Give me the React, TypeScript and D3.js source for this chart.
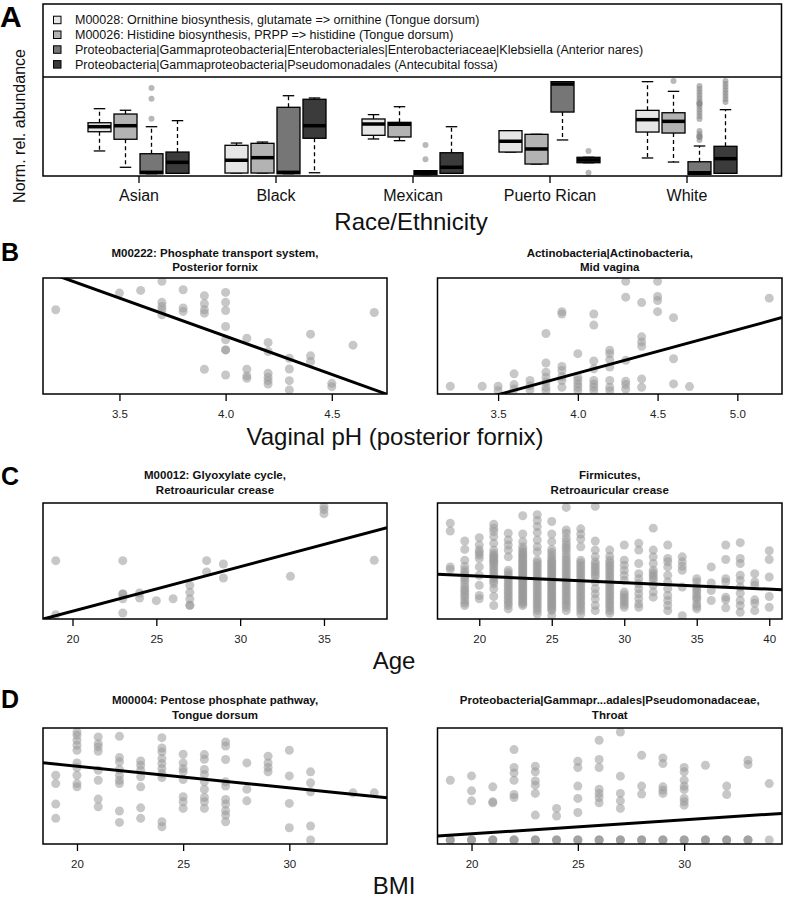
import React, { useEffect, useRef } from 'react';
import * as d3 from 'd3';

const FONT = 'Liberation Sans, Arial, Helvetica, sans-serif';

// ---- Panel A: box plots by race/ethnicity ----
const raceGroups = ['Asian', 'Black', 'Mexican', 'Puerto Rican', 'White'];

const boxLabels = [
  'M00028: Ornithine biosynthesis, glutamate => ornithine (Tongue dorsum)',
  'M00026: Histidine biosynthesis, PRPP => histidine (Tongue dorsum)',
  'Proteobacteria|Gammaproteobacteria|Enterobacteriales|Enterobacteriaceae|Klebsiella (Anterior nares)',
  'Proteobacteria|Gammaproteobacteria|Pseudomonadales (Antecubital fossa)',
];
const boxFills = ['#e6e6e6', '#b3b3b3', '#767676', '#3b3b3b'];

// [low whisker, q1, median, q3, high whisker] per race group
const ornithineStats = [
  [25.3, 44.7, 49.8, 53.8, 68.0],
  [3.0, 3.0, 15.9, 31.0, 33.3],
  [37.4, 41.1, 52.5, 57.6, 62.0],
  [24.2, 24.2, 35.1, 45.8, 45.8],
  [18.2, 44.4, 56.9, 66.3, 95.3],
];
const histidineStats = [
  [8.8, 37.1, 50.8, 62.6, 66.4],
  [3.0, 3.0, 18.5, 33.0, 34.3],
  [35.7, 39.4, 52.3, 54.2, 70.0],
  [12.1, 12.1, 27.3, 42.1, 42.1],
  [14.1, 43.4, 55.2, 63.9, 85.5],
];
const klebsiellaStats = [
  [2.3, 2.3, 3.7, 22.5, 49.8],
  [2.3, 2.3, 3.7, 69.4, 81.1],
  [1.3, 1.3, 3.5, 5.4, 5.4],
  [36.4, 64.6, 92.9, 95.3, 95.3],
  [1.7, 1.7, 3.3, 14.4, 30.3],
];
const pseudomonadalesStats = [
  [2.7, 2.7, 13.8, 24.2, 55.9],
  [3.3, 38.1, 50.8, 77.5, 78.8],
  [2.7, 2.7, 8.8, 23.5, 49.8],
  [13.4, 13.4, 16.2, 18.9, 18.9],
  [2.7, 2.7, 17.5, 30.0, 67.0],
];

const ornithineOutliers: number[][] = [[], [], [], [], []];
const histidineOutliers: number[][] = [[], [], [], [], [96.0]];
const klebsiellaOutliers: number[][] = [
  [88.9, 78.1, 57.9],
  [],
  [31.3, 16.9],
  [],
  [90.9, 87.9, 84.8, 81.8, 78.8, 75.8, 73.7, 72.7, 72.7, 69.7, 66.7, 63.6, 60.6, 57.6, 45.5, 42.4, 40.4, 39.4, 39.4, 36.4],
];
const pseudomonadalesOutliers: number[][] = [
  [],
  [],
  [],
  [25.3, 3.3],
  [96.0, 92.9, 89.9, 86.9, 83.8, 80.8, 77.8, 74.7],
];

const boxStats = [ornithineStats, histidineStats, klebsiellaStats, pseudomonadalesStats];
const boxOutliers = [ornithineOutliers, histidineOutliers, klebsiellaOutliers, pseudomonadalesOutliers];

// ---- Scatter panels: [x, [normalized abundances]] columns ----
const phosphateCols: [number, number[]][] = [
  [3.2, [72.6]],
  [3.5, [87.0]],
  [3.6, [89.3]],
  [3.7, [97.1, 79.0, 75.5, 72.6, 68.3]],
  [3.8, [89.9, 74.1, 71.2]],
  [3.9, [84.7, 77.8, 72.6, 69.7, 21.3]],
  [4.0, [87.6, 79.0, 72.0, 58.2, 46.7, 38.0, 38.0, 16.4]],
  [4.1, [48.1, 21.3, 15.6, 13.5]],
  [4.2, [44.4, 36.6, 17.9, 14.4, 11.5, 8.6]],
  [4.3, [30.8, 21.6, 11.5, 3.5]],
  [4.4, [51.6, 32.9, 28.0]],
  [4.5, [9.2, 6.3]],
  [4.6, [42.1]],
  [4.7, [70.3]],
];
const actinoCols: [number, number[]][] = [
  [3.2, [6.7]],
  [3.4, [6.7]],
  [3.5, [6.7, 2.9]],
  [3.6, [17.4, 8.1, 4.3]],
  [3.7, [11.6, 7.2, 3.5]],
  [3.8, [52.2, 26.7, 18.8, 14.5, 10.1, 5.8, 2.9]],
  [3.9, [71.0, 69.0, 23.8, 20.3, 15.1, 11.6, 5.8]],
  [4.0, [34.8, 14.5, 11.6, 8.7, 5.8, 2.9]],
  [4.1, [69.0, 59.4, 28.4, 21.7, 11.6, 8.7, 5.8, 2.9]],
  [4.2, [37.7, 34.8, 29.6, 23.2, 11.6, 5.8, 2.9]],
  [4.3, [97.1, 83.5, 29.0, 11.0, 8.1, 4.3]],
  [4.4, [78.8, 49.3, 44.9, 41.2, 13.0, 5.8]],
  [4.5, [97.1, 84.1, 80.6, 71.0]],
  [4.6, [65.8, 30.4, 8.7]],
  [4.7, [6.4]],
  [5.2, [82.6]],
];
const glyoxylateCols: [number, number[]][] = [
  [19, [50.3, 3.7]],
  [23, [50.3, 21.6, 21.6, 17.5, 5.2]],
  [24, [22.4, 18.1]],
  [25, [15.8]],
  [26, [17.5]],
  [27, [29.0, 23.0, 17.2, 11.8, 11.8]],
  [28, [50.3, 40.5]],
  [29, [47.4, 35.3]],
  [33, [36.8]],
  [35, [97.1, 94.3, 90.8]],
  [38, [50.6]],
];
const firmicutesCols: [number, number[]][] = [
  [18, [82.6, 75.9, 44.9, 42.6]],
  [19, [67.2, 60.0, 50.7, 45.5, 42.0, 39.8, 37.7, 35.5, 33.3, 30.4, 27.5, 25.3, 23.2, 20.9, 18.8, 15.9, 13.7, 11.6]],
  [20, [70.1, 63.8, 59.4, 57.2, 55.1, 52.2, 44.9, 37.7, 29.0, 20.3, 17.4]],
  [21, [81.7, 78.3, 75.4, 71.0, 65.2, 59.4, 56.5, 55.0, 53.6, 52.1, 50.7, 49.2, 47.8, 45.6, 43.5, 41.3, 39.1, 36.9, 34.8, 32.6, 30.4, 26.1, 19.4, 11.6]],
  [22, [73.9, 68.1, 63.8, 59.4, 53.6, 42.0, 39.8, 37.7, 35.5, 33.3, 31.1, 29.0, 26.8, 24.6, 22.4, 20.3, 18.1, 15.9, 13.7, 11.6, 8.7]],
  [23, [89.0, 73.3, 66.7, 62.3, 60.1, 58.0, 56.5, 55.1, 53.6, 52.2, 50.7, 49.3, 47.8, 46.4, 44.9, 43.5, 42.0, 40.6, 39.1, 37.7, 36.2, 34.8, 33.3, 31.9, 30.4, 29.0, 27.5, 26.1, 24.6, 23.2, 21.7, 20.3, 18.8, 17.4, 15.9, 14.5, 13.0, 11.6]],
  [24, [89.9, 84.9, 79.7, 74.5, 68.1, 62.3, 58.0, 50.7, 48.5, 46.4, 44.2, 42.0, 39.8, 37.7, 35.5, 33.3, 31.1, 29.0, 26.8, 24.6, 22.4, 20.3, 18.1, 15.9, 13.7, 11.6, 9.4, 7.2, 4.3]],
  [25, [84.1, 73.3, 66.7, 60.0, 57.5, 55.1, 52.9, 50.7, 49.2, 47.8, 46.3, 44.9, 43.4, 42.0, 40.5, 39.1, 37.6, 36.2, 34.7, 33.3, 31.8, 30.4, 28.9, 27.5, 26.0, 24.6, 23.1, 21.7, 20.2, 18.8, 17.3, 15.9, 14.4, 13.0, 11.5, 10.1, 8.6, 7.2, 2.9]],
  [26, [96.2, 76.8, 73.9, 69.6, 66.7, 63.8, 61.6, 59.4, 56.5, 53.6, 51.4, 49.3, 47.1, 44.9, 42.7, 40.6, 38.4, 36.2, 34.0, 31.9, 29.7, 27.5, 25.3, 23.2, 21.0, 18.8, 16.6, 14.5, 12.3, 10.1, 7.2]],
  [27, [77.7, 73.3, 69.0, 62.3, 50.7, 48.5, 46.4, 44.2, 42.0, 39.8, 37.7, 35.5, 33.3, 31.1, 29.0, 26.8, 24.6, 22.4, 20.3, 18.1, 15.9, 13.7, 11.6, 9.4, 7.2, 4.3]],
  [28, [97.1, 67.2, 59.4, 53.6, 49.3, 47.1, 44.9, 42.7, 40.6, 38.4, 36.2, 31.9, 26.1, 21.7, 17.4, 11.6, 7.2]],
  [29, [59.4, 54.2, 50.7, 48.5, 46.4, 44.2, 42.0, 39.8, 37.7, 35.5, 33.3, 31.1, 29.0, 26.8, 24.6, 22.4, 20.3, 18.1, 15.9, 13.7, 11.6, 9.4, 7.2, 4.9]],
  [30, [63.8, 50.7, 46.4, 42.0, 37.7, 33.3, 23.2, 20.9, 18.8, 16.6, 14.5, 12.3, 10.1]],
  [31, [65.2, 59.4, 47.8, 39.1, 34.8, 30.4, 26.1, 21.7, 17.4, 13.0, 10.1]],
  [32, [78.3, 59.4, 53.6, 47.8, 42.0, 39.8, 37.7, 35.5, 33.3, 29.0, 23.2, 18.8]],
  [33, [63.8, 52.2, 49.3, 44.9, 37.7, 31.9, 26.1, 20.3, 15.9, 11.6, 7.2]],
  [34, [53.6, 49.3, 45.5, 42.0, 27.5, 2.9]],
  [35, [34.8, 31.9, 27.5, 25.3, 23.2, 20.3, 18.4, 16.5, 13.0, 10.8, 8.7]],
  [36, [44.9, 31.0, 24.6, 15.9]],
  [37, [63.8, 51.3, 34.8, 31.9, 18.8, 16.5, 9.6]],
  [38, [65.8, 52.2, 47.8, 37.7, 33.3, 27.5, 22.3, 15.9, 11.6, 5.8]],
  [39, [39.1, 31.9, 29.0, 16.5, 13.6, 7.2]],
  [40, [58.8, 51.3, 36.2, 19.4, 10.1]],
];
const pentoseCols: [number, number[]][] = [
  [19, [59.3, 52.1, 34.4, 22.1]],
  [20, [96.6, 93.7, 89.4, 85.1, 80.8, 69.9, 65.9, 59.3, 52.1, 49.3]],
  [21, [92.3, 86.5, 83.7, 79.9, 63.6, 55.0, 38.7, 32.1]],
  [22, [92.8, 74.5, 70.8, 64.2, 59.3, 55.0, 52.1, 28.4, 18.6]],
  [23, [71.6, 67.9, 63.6, 57.9, 49.3, 31.2, 22.1]],
  [24, [91.7, 82.8, 79.4, 73.6, 69.3, 65.0, 60.7, 57.3, 19.2, 14.9]],
  [25, [77.4, 69.9, 65.0, 62.2, 55.6, 40.7, 36.4, 30.7]],
  [26, [77.1, 73.1, 64.2, 59.9, 53.6, 47.0, 40.1, 36.4, 30.7]],
  [27, [88.0, 84.5, 72.8, 53.6, 49.9, 38.4, 34.4, 28.7, 24.9, 19.2]],
  [28, [69.9, 47.3, 37.2]],
  [29, [75.6, 69.9, 65.9, 62.2]],
  [30, [80.8, 58.7, 35.0, 14.0]],
  [31, [62.2, 52.7, 45.0, 15.5, 3.4]],
  [33, [44.1]],
  [34, [44.1]],
];
const pseudomonadaceaeCols: [number, number[]][] = [
  [19, [55.0, 3.4, 3.4, 3.4]],
  [20, [58.7, 45.8, 37.2, 3.4, 3.4, 3.4]],
  [21, [49.3, 36.4, 35.5, 3.4, 3.4, 3.4]],
  [22, [81.4, 65.9, 61.3, 55.0, 42.7, 40.1, 3.4, 3.4, 3.4]],
  [23, [67.0, 62.2, 54.4, 50.7, 43.6, 24.9, 3.4, 3.4, 3.4]],
  [24, [30.7, 24.1, 3.4, 3.4, 3.4]],
  [25, [71.3, 65.9, 49.9, 39.3, 27.2, 3.4, 3.4, 3.4]],
  [26, [89.4, 72.8, 65.9, 47.3, 43.6, 40.1, 35.5, 3.4, 3.4, 3.4]],
  [27, [96.6, 58.5, 43.6, 37.2, 30.7, 3.4, 3.4, 3.4]],
  [28, [76.5, 49.9, 43.0, 3.4, 3.4, 3.4]],
  [29, [74.2, 69.3, 49.3, 46.4, 43.6, 3.4, 3.4, 3.4]],
  [30, [65.9, 62.2, 55.0, 49.9, 47.0, 39.3, 36.4, 33.5, 3.4, 3.4, 3.4]],
  [31, [67.9, 3.4, 3.4, 3.4]],
  [32, [49.9, 42.7, 3.4, 3.4, 3.4]],
  [33, [72.2, 68.5, 3.4, 3.4, 3.4]],
  [34, [52.1, 3.4]],
];

// linear fits: intercept, slope
const phosphateFit = [313.0, -65.8];
const actinoFit = [-131.3, 37.35];
const glyoxylateFit = [-70.1, 3.84];
const firmicutesFit = [48.26, -0.564];
const pentoseFit = [104.2, -1.86];
const pseudomonadaceaeFit = [-15.4, 1.207];

const phTicks = [3.5, 4.0, 4.5, 5.0];
const ageTicks = [20, 25, 30, 35, 40];
const bmiTicks = [20, 25, 30];

const LEFT = [43, 387];
const RIGHT = [437.5, 782];

const scatterPanels = [
  { id: 'b1', xr: LEFT, top: 278, bottom: 394, cols: phosphateCols, fit: phosphateFit, ticks: phTicks, fmt: d3.format('.1f'),
    title: ['M00222: Phosphate transport system,', 'Posterior fornix'], titleY: [256.5, 270.5] },
  { id: 'b2', xr: RIGHT, top: 278, bottom: 394, cols: actinoCols, fit: actinoFit, ticks: phTicks, fmt: d3.format('.1f'),
    title: ['Actinobacteria|Actinobacteria,', 'Mid vagina'], titleY: [256.5, 270.5] },
  { id: 'c1', xr: LEFT, top: 503, bottom: 619, cols: glyoxylateCols, fit: glyoxylateFit, ticks: ageTicks, fmt: d3.format('d'),
    title: ['M00012: Glyoxylate cycle,', 'Retroauricular crease'], titleY: [479, 494] },
  { id: 'c2', xr: RIGHT, top: 503, bottom: 619, cols: firmicutesCols, fit: firmicutesFit, ticks: ageTicks, fmt: d3.format('d'),
    title: ['Firmicutes,', 'Retroauricular crease'], titleY: [479, 494] },
  { id: 'd1', xr: LEFT, top: 728, bottom: 844, cols: pentoseCols, fit: pentoseFit, ticks: bmiTicks, fmt: d3.format('d'),
    title: ['M00004: Pentose phosphate pathway,', 'Tongue dorsum'], titleY: [704, 718.5] },
  { id: 'd2', xr: RIGHT, top: 728, bottom: 844, cols: pseudomonadaceaeCols, fit: pseudomonadaceaeFit, ticks: bmiTicks, fmt: d3.format('d'),
    title: ['Proteobacteria|Gammapr...adales|Pseudomonadaceae,', 'Throat'], titleY: [704, 718.5] },
];

function drawScatter(svg: any, p: any) {
  const g = svg.append('g');
  const pts = p.cols.flatMap(([x, ys]: [number, number[]]) => ys.map((y) => [x, y]));
  const [mn, mx] = d3.extent(pts, (d: number[]) => d[0]) as [number, number];
  const pad = (mx - mn) * 0.04;
  const x = d3.scaleLinear().domain([mn - pad, mx + pad]).range(p.xr);
  const y = d3.scaleLinear().domain([0, 100]).range([p.bottom, p.top]);

  g.append('clipPath').attr('id', 'clip-' + p.id).append('rect')
    .attr('x', p.xr[0]).attr('y', p.top)
    .attr('width', p.xr[1] - p.xr[0]).attr('height', p.bottom - p.top);

  const inner = g.append('g').attr('clip-path', `url(#clip-${p.id})`);
  inner.selectAll('circle').data(pts).join('circle')
    .attr('cx', (d: number[]) => x(d[0]))
    .attr('cy', (d: number[]) => y(d[1]))
    .attr('r', 4.5)
    .attr('fill', '#999')
    .attr('fill-opacity', 0.55);

  const xd = x.domain();
  inner.append('line')
    .attr('x1', x(xd[0])).attr('y1', y(p.fit[0] + p.fit[1] * xd[0]))
    .attr('x2', x(xd[1])).attr('y2', y(p.fit[0] + p.fit[1] * xd[1]))
    .attr('stroke', '#000').attr('stroke-width', 3);

  g.append('rect')
    .attr('x', p.xr[0]).attr('y', p.top)
    .attr('width', p.xr[1] - p.xr[0]).attr('height', p.bottom - p.top)
    .attr('fill', 'none').attr('stroke', '#000').attr('stroke-width', 1.5);

  const ticks = p.ticks.filter((t: number) => t >= xd[0] && t <= xd[1]);
  const ax = g.append('g').attr('transform', `translate(0,${p.bottom})`)
    .call(d3.axisBottom(x).tickValues(ticks).tickFormat(p.fmt).tickSize(7).tickPadding(9));
  ax.select('.domain').remove();
  ax.selectAll('line').attr('stroke', '#000').attr('stroke-width', 1.3);
  ax.selectAll('text').attr('font-family', FONT).attr('font-size', 11.5).attr('fill', '#222');

  const cx = (p.xr[0] + p.xr[1]) / 2;
  p.title.forEach((t: string, i: number) => {
    g.append('text').attr('x', cx).attr('y', p.titleY[i])
      .attr('text-anchor', 'middle').attr('font-family', FONT)
      .attr('font-size', 11.5).attr('font-weight', 'bold').attr('fill', '#111')
      .text(t);
  });
}

function drawBoxes(svg: any) {
  const top = 4, sep = 77, bottom = 176, left = 43, right = 781.5;
  const g = svg.append('g');
  const x = d3.scalePoint().domain(raceGroups).range([138.5, 686.5]);
  const inner = d3.scaleBand<number>().domain([0, 1, 2, 3]).range([-50.5, 50.5]).paddingInner(0.115);
  const y = d3.scaleLinear().domain([0, 100]).range([bottom, sep]);
  const bw = inner.bandwidth();

  // legend
  boxLabels.forEach((lab, i) => {
    const cy = 20 + i * 14.8;
    g.append('rect').attr('x', 53.5).attr('y', cy - 3.8).attr('width', 7.5).attr('height', 7.5)
      .attr('fill', boxFills[i]).attr('stroke', '#000').attr('stroke-width', 1);
    g.append('text').attr('x', 75).attr('y', cy + 4.3).attr('font-family', FONT)
      .attr('font-size', 12.5).attr('fill', '#111').text(lab);
  });

  boxStats.forEach((stats, s) => {
    stats.forEach((st, gi) => {
      const [lo, q1, med, q3, hi] = st;
      const x0 = (x(raceGroups[gi]) as number) + (inner(s) as number);
      const xc = x0 + bw / 2;
      const bg = g.append('g');
      bg.append('line').attr('x1', xc).attr('x2', xc).attr('y1', y(q3)).attr('y2', y(hi))
        .attr('stroke', '#000').attr('stroke-width', 1.3).attr('stroke-dasharray', '4,3');
      bg.append('line').attr('x1', xc).attr('x2', xc).attr('y1', y(q1)).attr('y2', y(lo))
        .attr('stroke', '#000').attr('stroke-width', 1.3).attr('stroke-dasharray', '4,3');
      [lo, hi].forEach((v) => {
        bg.append('line').attr('x1', xc - bw / 4).attr('x2', xc + bw / 4).attr('y1', y(v)).attr('y2', y(v))
          .attr('stroke', '#000').attr('stroke-width', 1.3);
      });
      bg.append('rect').attr('x', x0).attr('y', y(q3)).attr('width', bw).attr('height', y(q1) - y(q3))
        .attr('fill', boxFills[s]).attr('stroke', '#000').attr('stroke-width', 1.3);
      bg.append('line').attr('x1', x0).attr('x2', x0 + bw).attr('y1', y(med)).attr('y2', y(med))
        .attr('stroke', '#000').attr('stroke-width', 3.5);
      bg.selectAll('circle.out').data(boxOutliers[s][gi]).join('circle')
        .attr('cx', xc).attr('cy', (d: number) => y(d)).attr('r', 3)
        .attr('fill', '#888').attr('fill-opacity', 0.6);
    });
  });

  g.append('rect').attr('x', left).attr('y', top).attr('width', right - left).attr('height', bottom - top)
    .attr('fill', 'none').attr('stroke', '#000').attr('stroke-width', 1.5);
  g.append('line').attr('x1', left).attr('x2', right).attr('y1', sep).attr('y2', sep)
    .attr('stroke', '#000').attr('stroke-width', 1.5);

  const ax = g.append('g').attr('transform', `translate(0,${bottom})`)
    .call(d3.axisBottom(x).tickSize(7).tickPadding(6.6));
  ax.select('.domain').remove();
  ax.selectAll('line').attr('stroke', '#000').attr('stroke-width', 1.3);
  ax.selectAll('text').attr('font-family', FONT).attr('font-size', 16).attr('fill', '#111');

  g.append('text').attr('transform', 'translate(25,126) rotate(-90)').attr('text-anchor', 'middle')
    .attr('font-family', FONT).attr('font-size', 16).attr('fill', '#111').text('Norm. rel. abundance');
}

const App: React.FC = () => {
  const svgRef = useRef<SVGSVGElement>(null);

  useEffect(() => {
    if (!svgRef.current) return;
    const svg = d3.select(svgRef.current);
    svg.selectAll('*').remove();

    drawBoxes(svg);
    scatterPanels.forEach((p) => drawScatter(svg, p));

    // axis titles
    const titles: [string, number, number][] = [
      ['Race/Ethnicity', 411, 230],
      ['Vaginal pH (posterior fornix)', 395, 445],
      ['Age', 394, 669],
      ['BMI', 394, 894],
    ];
    titles.forEach(([t, x, y]) => {
      svg.append('text').attr('x', x).attr('y', y).attr('text-anchor', 'middle')
        .attr('font-family', FONT).attr('font-size', 24).attr('fill', '#111').text(t);
    });

    // panel letters
    const letters: [string, number, number][] = [['A', 0, 27], ['B', 1, 261], ['C', 1, 485], ['D', 1, 708]];
    letters.forEach(([t, x, y], i) => {
      svg.append('text').attr('x', x).attr('y', y)
        .attr('font-family', FONT).attr('font-size', i === 0 ? 30 : 25).attr('font-weight', 'bold')
        .attr('fill', '#000').text(t);
    });
  }, []);

  return (
    <div style={{ position: 'absolute', left: 0, top: 0 }}>
      <svg ref={svgRef} width={788} height={900} style={{ display: 'block', background: '#fff' }} />
    </div>
  );
};

export default App;
